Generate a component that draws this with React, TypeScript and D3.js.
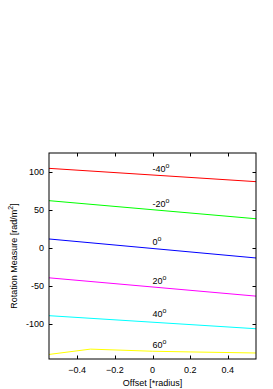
import { useEffect, useRef } from 'react';
import * as d3 from 'd3';

// offsets along the radius
const offsets = [-0.55, 0.55];
const yellowOffsets = [-0.55, -0.33, 0, 0.2, 0.55];

// rotation measure per latitude
const latitudes = ['-40', '-20', '0', '20', '40', '60'];
const colors = ['#ff0000', '#00ff00', '#0000ff', '#ff00ff', '#00ffff', '#ffff00'];
const rmM40 = [105.3, 87.8];
const rmM20 = [62.8, 39];
const rm0 = [12.4, -12.6];
const rm20 = [-38.7, -62.8];
const rm40 = [-88.5, -105.7];
const rm60 = [-139.5, -132.5, -135.3, -136.2, -137.6];
const labelY = [100.3, 54.9, 3.9, -46.3, -90.2, -130.9];

const xTicks = [-0.4, -0.2, 0, 0.2, 0.4];
const yTicks = [-100, -50, 0, 50, 100];

const W = 273;
const H = 389;

export default function App() {
  const svgRef = useRef<SVGSVGElement>(null);
  const margin = { top: 153, right: 17, bottom: 30, left: 49 };

  useEffect(() => {
    if (!svgRef.current) return;
    const svg = d3.select(svgRef.current);
    svg.selectAll('*').remove();

    const x = d3.scaleLinear().domain([-0.55, 0.55]).range([margin.left, W - margin.right]);
    const y = d3.scaleLinear().domain([-145.5, 125.5]).range([H - margin.bottom, margin.top]);
    const font = 'Liberation Sans, Arial, sans-serif';

    const series = [
      { xs: offsets, ys: rmM40 },
      { xs: offsets, ys: rmM20 },
      { xs: offsets, ys: rm0 },
      { xs: offsets, ys: rm20 },
      { xs: offsets, ys: rm40 },
      { xs: yellowOffsets, ys: rm60 },
    ];

    const line = d3
      .line<[number, number]>()
      .x((d) => x(d[0]))
      .y((d) => y(d[1]));

    series.forEach((s, i) => {
      const pts = s.xs.map((v, j) => [v, s.ys[j]] as [number, number]);
      svg
        .append('path')
        .attr('d', line(pts))
        .attr('fill', 'none')
        .attr('stroke', colors[i])
        .attr('stroke-width', 1);
    });

    // 标签
    latitudes.forEach((lat, i) => {
      const t = svg
        .append('text')
        .attr('x', x(0))
        .attr('y', y(labelY[i]))
        .attr('font-family', font)
        .attr('font-size', 9)
        .attr('fill', '#000')
        .text(lat);
      t.append('tspan').attr('dy', -4).attr('font-size', 7).text('o');
    });

    const x0 = x.range()[0];
    const x1 = x.range()[1];
    const y0 = y.range()[0];
    const y1 = y.range()[1];
    const tick = 3.5;

    // 坐标轴刻度
    const g = svg.append('g').attr('stroke', '#000').attr('stroke-width', 1);
    xTicks.forEach((t) => {
      const px = Math.round(x(t)) + 0.5;
      g.append('line').attr('x1', px).attr('x2', px).attr('y1', y0).attr('y2', y0 - tick);
      g.append('line').attr('x1', px).attr('x2', px).attr('y1', y1).attr('y2', y1 + tick);
    });
    yTicks.forEach((t) => {
      const py = Math.round(y(t)) + 0.5;
      g.append('line').attr('x1', x0).attr('x2', x0 + tick).attr('y1', py).attr('y2', py);
      g.append('line').attr('x1', x1).attr('x2', x1 - tick).attr('y1', py).attr('y2', py);
    });
    g.append('rect')
      .attr('x', x0)
      .attr('y', y1)
      .attr('width', x1 - x0)
      .attr('height', y0 - y1)
      .attr('fill', 'none');

    svg
      .append('g')
      .selectAll('text')
      .data(xTicks)
      .join('text')
      .attr('x', (d) => x(d))
      .attr('y', y0 + 14)
      .attr('text-anchor', 'middle')
      .attr('font-family', font)
      .attr('font-size', 9)
      .text((d) => (d === 0 ? '0' : d3.format('.1f')(d)));

    svg
      .append('g')
      .selectAll('text')
      .data(yTicks)
      .join('text')
      .attr('x', x0 - 5)
      .attr('y', (d) => y(d) + 3)
      .attr('text-anchor', 'end')
      .attr('font-family', font)
      .attr('font-size', 9)
      .text((d) => d);

    svg
      .append('text')
      .attr('x', (x0 + x1) / 2)
      .attr('y', H - 3)
      .attr('text-anchor', 'middle')
      .attr('font-family', font)
      .attr('font-size', 9)
      .text('Offset [*radius]');

    const yl = svg
      .append('text')
      .attr('transform', `translate(16.5,${(y0 + y1) / 2}) rotate(-90)`)
      .attr('text-anchor', 'middle')
      .attr('font-family', font)
      .attr('font-size', 9)
      .text('Rotation Measure [rad/m');
    yl.append('tspan').attr('dy', -4).attr('font-size', 7).text('2');
    yl.append('tspan').attr('dy', 4).text(']');
  }, []);

  return (
    <svg
      ref={svgRef}
      width={W}
      height={H}
      style={{ position: 'absolute', left: 0, top: 0, background: '#fff' }}
    />
  );
}
